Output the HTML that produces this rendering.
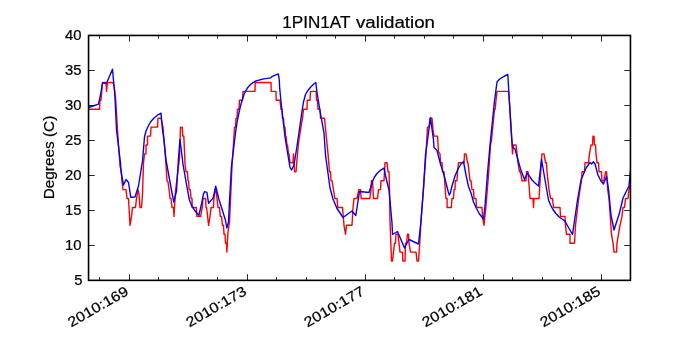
<!DOCTYPE html>
<html><head><meta charset="utf-8"><style>
html,body{margin:0;padding:0;background:#fff;}
svg{display:block;}
text{-webkit-font-smoothing:antialiased;}
.tk{font-family:"Liberation Sans",sans-serif;font-size:14.1px;fill:#000;stroke:#000;stroke-width:0.22px;}
.tt{font-family:"Liberation Sans",sans-serif;font-size:16.7px;fill:#000;stroke:#000;stroke-width:0.22px;}
</style></head><body>
<svg width="700" height="350" viewBox="0 0 700 350" style="will-change:transform">
<rect x="0" y="0" width="700" height="350" fill="#fff"/>
<defs><clipPath id="ax"><rect x="88.55" y="35.45" width="541.9000000000001" height="244.90000000000003"/></clipPath></defs>
<g clip-path="url(#ax)" fill="none" stroke-width="1.4" stroke-linejoin="round" stroke-linecap="butt">
<polyline stroke="#ff0000" points="88.6,109.3 99.6,109.3 100.0,100.3 101.0,100.3 102.5,82.5 106.0,82.5 106.5,91.4 107.5,82.5 112.5,82.5 114.0,85.0 115.5,97.0 117.5,130.0 120.0,166.0 121.5,171.8 122.0,182.0 123.0,189.6 126.0,189.6 126.5,194.0 127.0,198.5 128.5,198.5 130.0,225.3 131.5,216.4 132.5,207.5 135.5,207.5 136.5,198.5 138.0,189.6 139.0,194.0 140.0,207.5 141.5,207.5 142.5,194.0 143.5,162.8 144.5,153.9 146.0,153.9 146.0,145.0 147.5,145.0 147.5,136.1 150.5,136.1 151.0,127.1 157.5,127.1 158.0,118.2 161.0,118.2 163.0,127.1 164.0,140.0 165.5,158.0 167.0,180.7 168.0,182.0 169.5,193.0 170.0,198.5 171.0,198.5 172.0,207.5 173.5,207.5 174.0,216.4 174.5,207.5 175.5,191.0 179.5,158.0 180.5,127.1 182.2,127.1 182.8,136.1 183.8,136.1 185.1,165.0 186.0,171.8 187.4,171.8 188.0,180.7 188.6,180.7 189.1,189.6 190.2,189.6 191.1,198.5 192.0,198.5 192.2,207.5 196.3,207.5 196.9,216.4 200.6,216.4 202.3,207.5 202.9,198.5 205.7,198.5 206.0,207.5 206.6,207.5 208.6,225.3 210.0,216.4 211.1,207.5 213.4,207.5 214.0,198.5 215.2,189.6 216.0,189.6 217.0,198.5 218.0,207.5 219.5,207.5 220.3,216.4 221.5,216.4 222.5,225.3 223.5,225.3 224.0,234.2 225.0,234.2 225.5,243.2 226.5,243.2 226.8,252.1 228.0,232.0 229.5,222.0 232.0,166.0 234.0,136.1 234.5,127.1 235.5,127.1 236.0,118.2 237.0,118.2 237.5,109.3 239.0,109.3 239.5,100.3 242.5,100.3 243.0,91.4 255.0,91.4 255.2,82.5 271.0,82.5 271.2,91.4 276.0,91.4 276.2,100.3 280.0,100.3 281.0,109.3 282.0,109.3 282.5,118.2 283.5,118.2 284.0,127.1 285.0,127.1 285.5,136.1 286.0,136.1 287.0,145.0 287.5,145.0 288.5,153.9 289.0,153.9 290.0,162.8 293.0,162.8 293.5,153.9 294.0,162.8 294.5,171.8 296.0,171.8 297.5,153.9 298.5,143.0 301.0,127.1 302.5,118.2 303.5,109.3 307.0,109.3 307.2,100.3 310.0,100.3 310.5,91.4 316.2,91.4 316.5,100.3 317.5,100.3 318.0,109.3 320.0,109.3 320.5,118.2 324.5,118.2 328.0,153.9 329.5,171.8 330.5,171.8 331.0,180.7 332.0,180.7 333.5,189.6 334.8,198.5 337.0,198.5 337.8,207.5 342.5,207.5 344.0,225.3 345.5,234.2 346.5,225.3 352.0,225.3 353.0,207.5 354.0,198.5 357.0,198.5 358.8,189.6 360.5,189.6 361.2,198.5 369.8,198.5 371.0,189.6 371.5,180.7 372.5,180.7 373.5,198.5 377.5,198.5 378.5,189.6 380.5,189.6 381.0,180.7 384.0,180.7 385.0,162.8 387.0,162.8 388.0,171.8 389.0,171.8 389.5,189.6 390.0,221.0 391.5,261.0 392.5,261.0 393.5,252.1 394.5,243.2 395.5,243.2 396.0,234.2 398.0,234.2 399.0,243.2 400.0,252.1 402.5,252.1 402.8,261.0 405.0,261.0 405.5,243.2 406.5,243.2 407.5,234.2 408.5,234.2 409.0,243.2 410.5,252.1 416.0,252.1 417.0,261.0 418.5,261.0 420.0,240.0 421.0,221.0 423.5,188.0 426.0,153.9 427.5,127.1 429.0,127.1 430.0,118.2 432.0,118.2 433.0,130.0 434.0,136.1 437.5,136.1 438.5,152.0 440.0,153.9 440.5,162.8 442.0,162.8 442.5,171.8 444.0,171.8 445.9,198.5 447.1,198.5 447.1,207.5 451.4,207.5 451.9,198.5 453.5,198.5 454.0,189.6 455.0,189.6 455.3,180.7 457.0,180.7 457.5,171.8 458.5,162.8 464.0,162.8 464.5,153.9 466.0,153.9 467.5,162.8 468.0,162.8 469.0,171.8 470.0,180.7 471.0,180.7 472.0,189.6 473.5,189.6 474.0,198.5 476.0,198.5 476.5,207.5 482.0,207.5 482.5,216.4 484.0,225.3 486.0,206.0 488.5,175.0 490.5,145.0 491.5,140.0 494.5,109.3 495.2,109.3 496.0,100.3 497.0,91.4 508.5,91.4 509.5,103.0 511.5,134.0 512.5,153.9 513.5,145.0 516.0,145.0 517.0,153.9 518.0,162.8 519.5,171.8 520.5,171.8 522.0,180.7 526.0,180.7 526.5,171.8 528.0,171.8 530.0,198.5 533.0,198.5 533.5,207.5 534.0,198.5 539.0,198.5 541.0,167.0 542.0,153.9 544.0,153.9 545.5,162.8 546.5,162.8 547.0,171.8 548.0,180.7 549.0,189.6 550.5,198.5 552.5,198.5 553.5,207.5 560.0,207.5 560.5,216.4 565.0,216.4 565.5,225.3 566.5,234.2 570.0,234.2 570.0,243.2 574.5,243.2 575.5,225.3 578.5,200.0 580.0,189.6 581.5,180.7 582.0,171.8 584.5,171.8 585.0,162.8 588.5,162.8 589.5,153.9 591.0,145.0 592.5,145.0 593.0,136.1 594.0,136.1 594.5,145.0 595.5,145.0 596.0,153.9 597.0,162.8 598.5,162.8 599.1,171.8 601.4,171.8 602.0,180.7 603.7,180.7 605.7,171.8 606.5,171.8 607.7,189.6 609.0,198.5 611.5,234.2 613.0,243.2 614.0,252.1 616.5,252.1 617.0,243.2 618.5,234.2 620.0,225.3 622.0,216.4 623.0,207.5 624.5,207.5 625.5,198.5 628.0,198.5 629.0,189.6 630.0,186.0 631.0,180.7"/>
<polyline stroke="#0000ff" points="88.6,107.5 98.5,104.2 100.5,95.0 102.5,83.0 106.5,83.2 112.5,69.2 115.0,97.0 116.5,130.0 120.5,163.0 121.0,172.0 123.5,185.0 126.0,179.5 128.5,182.5 130.8,197.3 135.0,197.0 138.5,186.0 142.5,161.0 144.5,137.0 146.0,131.0 148.0,126.5 150.5,122.0 154.0,118.0 158.0,114.8 161.0,113.2 162.5,130.0 164.0,140.0 166.0,160.0 172.0,193.0 173.8,202.0 176.5,191.0 178.5,158.0 180.0,139.5 183.1,165.0 186.6,185.0 189.4,200.0 192.3,206.9 195.5,211.5 198.9,215.4 201.5,204.0 203.5,194.0 204.6,191.6 206.9,192.4 208.6,203.3 213.1,198.1 215.7,186.1 219.1,200.0 222.0,209.0 225.4,220.0 226.8,228.0 228.5,222.0 229.5,201.0 231.5,166.0 235.5,133.0 237.2,121.5 239.0,112.5 240.6,105.5 242.2,100.0 244.0,94.5 246.0,90.3 248.0,87.2 250.5,84.5 253.0,82.6 256.0,80.9 260.0,79.8 264.0,78.9 270.6,77.9 272.3,76.3 278.3,73.9 279.3,80.0 279.6,87.0 281.0,102.0 285.0,137.0 290.0,167.5 291.5,170.0 294.0,165.0 297.5,143.0 302.0,111.0 303.5,102.0 305.5,94.5 308.0,90.2 311.0,86.7 313.5,84.3 315.8,82.5 316.8,91.0 320.0,111.0 324.0,133.0 325.5,155.0 330.0,188.0 333.0,199.0 337.0,208.5 343.0,217.5 352.0,211.0 355.8,215.5 359.5,191.5 369.0,192.5 370.5,188.0 372.0,182.5 374.5,177.0 377.0,173.5 380.5,170.3 384.0,168.0 386.5,180.0 389.0,190.0 392.0,223.0 392.5,234.5 397.5,231.5 404.5,248.0 409.0,239.5 418.5,244.0 421.0,221.0 423.5,188.0 425.5,155.0 430.5,117.8 433.5,140.0 434.0,147.5 437.0,150.5 440.5,164.0 444.0,175.0 446.5,185.0 448.3,192.0 449.3,195.0 450.4,192.8 452.0,186.0 455.0,176.0 458.0,169.0 461.0,164.0 463.5,161.5 466.0,175.0 468.5,186.5 471.0,193.0 473.5,202.0 476.5,208.5 479.5,214.0 483.5,219.0 485.0,206.0 487.5,173.0 490.5,140.0 494.5,101.0 497.0,82.0 499.0,79.8 501.5,77.8 504.5,76.0 507.8,74.5 509.5,103.0 511.5,136.0 512.5,147.0 515.0,149.0 520.5,169.0 524.5,179.5 527.5,173.0 530.0,177.0 532.0,180.0 535.0,183.0 538.5,186.0 541.5,159.5 548.5,200.0 550.8,205.5 553.0,209.5 555.8,213.5 559.0,216.8 562.0,219.0 564.5,220.7 568.5,227.5 572.5,234.5 577.5,200.0 581.0,180.0 586.0,168.0 590.0,162.5 591.5,164.0 593.5,161.8 595.0,164.0 598.0,175.0 600.5,180.3 603.4,184.0 606.6,176.3 608.6,190.0 611.0,215.0 614.0,230.0 619.5,213.0 623.0,198.0 629.0,186.0 630.5,170.0 632.0,150.0"/>
</g>
<g stroke="#000" stroke-width="0.85" fill="none">
<line x1="88.55" y1="280.5" x2="94.75" y2="280.5"/><line x1="630.45" y1="280.5" x2="624.25" y2="280.5"/><line x1="88.55" y1="245.5" x2="94.75" y2="245.5"/><line x1="630.45" y1="245.5" x2="624.25" y2="245.5"/><line x1="88.55" y1="210.5" x2="94.75" y2="210.5"/><line x1="630.45" y1="210.5" x2="624.25" y2="210.5"/><line x1="88.55" y1="175.5" x2="94.75" y2="175.5"/><line x1="630.45" y1="175.5" x2="624.25" y2="175.5"/><line x1="88.55" y1="140.5" x2="94.75" y2="140.5"/><line x1="630.45" y1="140.5" x2="624.25" y2="140.5"/><line x1="88.55" y1="105.5" x2="94.75" y2="105.5"/><line x1="630.45" y1="105.5" x2="624.25" y2="105.5"/><line x1="88.55" y1="70.5" x2="94.75" y2="70.5"/><line x1="630.45" y1="70.5" x2="624.25" y2="70.5"/><line x1="88.55" y1="35.5" x2="94.75" y2="35.5"/><line x1="630.45" y1="35.5" x2="624.25" y2="35.5"/><line x1="99.5" y1="280.35" x2="99.5" y2="277.15000000000003"/><line x1="99.5" y1="35.45" x2="99.5" y2="38.650000000000006"/><line x1="129.5" y1="280.35" x2="129.5" y2="274.15000000000003"/><line x1="129.5" y1="35.45" x2="129.5" y2="41.650000000000006"/><line x1="158.5" y1="280.35" x2="158.5" y2="277.15000000000003"/><line x1="158.5" y1="35.45" x2="158.5" y2="38.650000000000006"/><line x1="188.5" y1="280.35" x2="188.5" y2="277.15000000000003"/><line x1="188.5" y1="35.45" x2="188.5" y2="38.650000000000006"/><line x1="217.5" y1="280.35" x2="217.5" y2="277.15000000000003"/><line x1="217.5" y1="35.45" x2="217.5" y2="38.650000000000006"/><line x1="247.5" y1="280.35" x2="247.5" y2="274.15000000000003"/><line x1="247.5" y1="35.45" x2="247.5" y2="41.650000000000006"/><line x1="276.5" y1="280.35" x2="276.5" y2="277.15000000000003"/><line x1="276.5" y1="35.45" x2="276.5" y2="38.650000000000006"/><line x1="306.5" y1="280.35" x2="306.5" y2="277.15000000000003"/><line x1="306.5" y1="35.45" x2="306.5" y2="38.650000000000006"/><line x1="335.5" y1="280.35" x2="335.5" y2="277.15000000000003"/><line x1="335.5" y1="35.45" x2="335.5" y2="38.650000000000006"/><line x1="365.5" y1="280.35" x2="365.5" y2="274.15000000000003"/><line x1="365.5" y1="35.45" x2="365.5" y2="41.650000000000006"/><line x1="394.5" y1="280.35" x2="394.5" y2="277.15000000000003"/><line x1="394.5" y1="35.45" x2="394.5" y2="38.650000000000006"/><line x1="424.5" y1="280.35" x2="424.5" y2="277.15000000000003"/><line x1="424.5" y1="35.45" x2="424.5" y2="38.650000000000006"/><line x1="453.5" y1="280.35" x2="453.5" y2="277.15000000000003"/><line x1="453.5" y1="35.45" x2="453.5" y2="38.650000000000006"/><line x1="483.5" y1="280.35" x2="483.5" y2="274.15000000000003"/><line x1="483.5" y1="35.45" x2="483.5" y2="41.650000000000006"/><line x1="512.5" y1="280.35" x2="512.5" y2="277.15000000000003"/><line x1="512.5" y1="35.45" x2="512.5" y2="38.650000000000006"/><line x1="542.5" y1="280.35" x2="542.5" y2="277.15000000000003"/><line x1="542.5" y1="35.45" x2="542.5" y2="38.650000000000006"/><line x1="571.5" y1="280.35" x2="571.5" y2="277.15000000000003"/><line x1="571.5" y1="35.45" x2="571.5" y2="38.650000000000006"/><line x1="601.5" y1="280.35" x2="601.5" y2="274.15000000000003"/><line x1="601.5" y1="35.45" x2="601.5" y2="41.650000000000006"/>
</g>
<rect x="88.55" y="35.45" width="541.9000000000001" height="244.90000000000003" stroke="#000" stroke-width="1.6" fill="none"/>
<text transform="translate(82.5,285.35) scale(1.05,1)" text-anchor="end" class="tk">5</text><text transform="translate(81.5,250.35) scale(1.05,1)" text-anchor="end" class="tk">10</text><text transform="translate(81.5,215.35) scale(1.05,1)" text-anchor="end" class="tk">15</text><text transform="translate(81.5,180.35) scale(1.05,1)" text-anchor="end" class="tk">20</text><text transform="translate(81.5,145.35) scale(1.05,1)" text-anchor="end" class="tk">25</text><text transform="translate(81.5,110.35) scale(1.05,1)" text-anchor="end" class="tk">30</text><text transform="translate(81.5,75.35) scale(1.05,1)" text-anchor="end" class="tk">35</text><text transform="translate(81.5,40.35) scale(1.05,1)" text-anchor="end" class="tk">40</text>
<text transform="translate(129.40,293.95) rotate(-30) scale(1.14,1)" text-anchor="end" class="tk">2010:169</text><text transform="translate(247.44,293.95) rotate(-30) scale(1.14,1)" text-anchor="end" class="tk">2010:173</text><text transform="translate(365.48,293.95) rotate(-30) scale(1.14,1)" text-anchor="end" class="tk">2010:177</text><text transform="translate(483.52,293.95) rotate(-30) scale(1.14,1)" text-anchor="end" class="tk">2010:181</text><text transform="translate(601.56,293.95) rotate(-30) scale(1.14,1)" text-anchor="end" class="tk">2010:185</text>
<text transform="translate(282.3,28.1) scale(1.025,1)" class="tt">1PIN1AT</text><text transform="translate(356.0,28.1) scale(1.12,1)" class="tt">validation</text>
<text transform="translate(54.0,157.5) rotate(-90) scale(1.09,1)" text-anchor="middle" class="tk">Degrees (C)</text>
</svg>
</body></html>
